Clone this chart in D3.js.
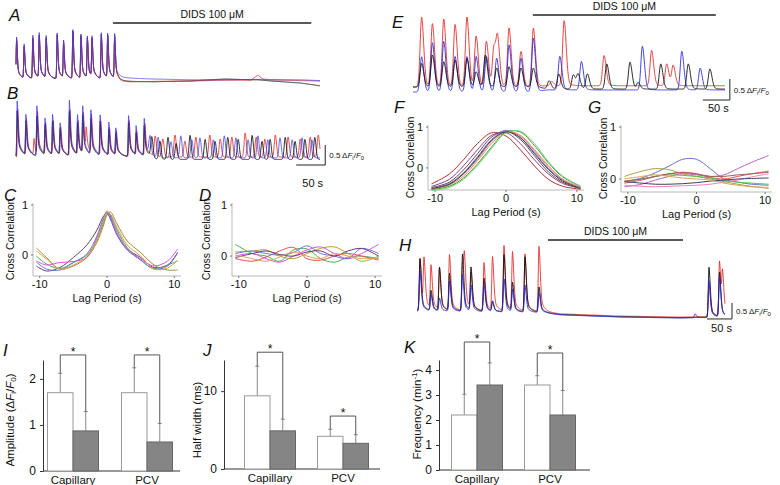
<!DOCTYPE html>
<html>
<head>
<meta charset="utf-8">
<script src="https://cdn.jsdelivr.net/npm/d3@7"></script>
<style>
body { margin: 0; background: #fff; }
svg { display: block; }
text { font-family: "Liberation Sans", Arial, Helvetica, sans-serif; fill: #111; }
</style>
</head>
<body>
<div id="fig"></div>
<script>
// ---------------- data: Ca traces, peaks as [time s, dF/F0] ----------------
var aBlue  = [[1,1.05],[14,0.85],[29,1.08],[40,1.12],[52,1.05],[71,1.14],[82,0.93],[98,1.22],[112,1.1],[123,1.03],[131,1.0],[147,1.14],[158,1.1],[170,1.1]];
var aRed   = [[1,1.0],[14,0.8],[29,1.02],[40,1.05],[52,1.0],[71,1.08],[82,0.9],[98,1.15],[112,1.05],[123,1.0],[131,0.95],[147,1.08],[158,1.05],[170,1.02]];
var aBlack = [[1,0.98],[14,0.78],[29,1.0],[40,1.05],[52,0.98],[71,1.1],[82,0.88],[98,1.18],[112,1.06],[123,0.98],[131,0.95],[147,1.1],[158,1.05],[170,1.05]];
var aBaseT     = [0, 170, 180, 200, 236, 300, 360, 405, 417, 425, 440, 490, 524];
var aBaseBlue  = [0, 0, 0.03, 0.02, 0.0, -0.02, -0.02, -0.01, -0.01, -0.01, -0.02, -0.02, -0.04];
var aBaseRed   = [0, 0, -0.07, -0.07, -0.06, -0.05, -0.03, -0.03, 0.1, 0.0, -0.02, -0.04, -0.05];
var aBaseBlack = [0, 0, -0.05, -0.06, -0.07, -0.05, 0.0, -0.02, -0.02, -0.03, -0.05, -0.1, -0.17];

var bEarlyBlue  = [[2,1.4],[17,1.0],[36,1.25],[50,0.9],[63,1.0],[76,0.78],[92,1.38],[106,0.98],[115,1.15],[129,1.1],[145,1.0],[160,0.82],[172,0.66],[194,1.02],[207,0.72],[221,0.92]];
var bEarlyRed   = [[3,1.2],[18,0.9],[31,0.4],[37,1.05],[51,0.8],[64,0.85],[77,0.7],[93,1.15],[107,0.85],[116,1.0],[121,0.5],[130,0.95],[146,0.85],[161,0.7],[173,0.6],[195,0.9],[208,0.6],[222,0.8]];
var bEarlyBlack = [[2,1.15],[17,0.85],[36,1.0],[50,0.75],[63,0.85],[76,0.65],[92,1.1],[106,0.8],[115,0.95],[129,0.9],[145,0.85],[160,0.65],[172,0.55],[194,0.85],[207,0.55],[221,0.75]];
var bLateBlue  = [[231,0.45],[245,0.5],[267,0.4],[284,0.55],[303,0.45],[317,0.5],[340,0.45],[359,0.55],[379,0.5],[400,0.45],[417,0.55],[434,0.45],[455,0.5],[476,0.45],[493,0.5],[510,0.45]];
var bLateRed   = [[240,0.5],[253,0.45],[274,0.55],[291,0.4],[310,0.5],[334,0.55],[352,0.45],[372,0.5],[395,0.6],[414,0.5],[429,0.45],[447,0.55],[469,0.5],[490,0.45],[507,0.5],[521,0.55]];
var bLateBlack = [[234,0.5],[248,0.45],[262,0.55],[276,0.4],[300,0.6],[326,0.5],[343,0.45],[365,0.55],[383,0.5],[407,0.6],[424,0.45],[438,0.5],[464,0.55],[481,0.45],[498,0.5],[515,0.55]];
var bBaseT     = [0, 220, 240, 524];
var bBaseBlue  = [0, 0, -0.02, -0.02];
var bBaseRed   = [0, 0, 0, 0];
var bBaseBlack = [0, 0, -0.06, -0.06];

var eRed   = [[16,1.66],[36,1.5],[57,1.61],[78,1.48],[100,1.66],[117,1.2],[136,1.08],[150,0.95],[157,1.04],[178,1.4],[200,0.84],[223,1.4],[257,0.1],[280,1.55],[354,0.72],[442,0.84],[470,0.52],[482,0.48]];
var eBlue  = [[16,0.84],[36,1.17],[57,1.2],[78,0.84],[100,0.84],[117,0.84],[136,0.84],[155,0.8],[178,1.12],[200,0.8],[223,1.28],[272,0.8],[312,0.68],[425,1.04],[498,0.92],[532,0.52]];
var eBlack = [[16,0.56],[36,0.76],[57,0.6],[78,0.64],[100,0.68],[117,0.36],[134,0.76],[155,0.45],[178,0.48],[200,0.45],[223,0.45],[252,0.2],[270,0.36],[297,0.34],[306,0.34],[323,0.36],[359,0.6],[402,0.64],[417,0.15],[459,0.6],[510,0.6],[550,0.48]];
var eBaseT     = [0, 230, 250, 578];
var eBaseRed   = [0, 0, 0.03, 0.03];
var eBaseBlue  = [-0.12, -0.12, -0.07, -0.07];
var eBaseBlack = [0, 0, -0.05, -0.05];

var hRed   = [[6,1.62],[14,1.5],[28,1.34],[45,1.31],[65,1.72],[91,1.47],[95,1.3],[108,1.1],[134,1.5],[151,1.66],[174,2.03],[191,1.81],[216,1.78],[244,2.03],[584,1.0],[605,1.72],[611,1.2]];
var hBlack = [[6,1.62],[28,0.62],[45,1.34],[65,1.16],[91,1.78],[108,1.34],[134,1.03],[151,0.31],[174,1.78],[191,0.88],[216,1.72],[244,0.78],[584,1.56],[605,1.38]];
var hBlue  = [[6,1.25],[28,0.5],[45,0.4],[65,0.94],[91,1.16],[108,0.8],[134,0.84],[151,0.3],[174,1.03],[191,0.69],[216,0.84],[244,0.62],[556,0.12],[584,1.16],[605,1.25]];
var hBaseT = [0, 250, 286, 406, 526, 566, 616];
var hBase  = [0, -0.05, -0.12, -0.19, -0.22, -0.21, -0.2];

// ---------------- data: cross correlation ----------------
var cLag = [-10.5, -9, -7, -5, -3, -1.5, -0.5, 0, 0.5, 1.5, 3, 5, 7, 9, 10.5];
var cCurves = [
  {color: "#6b3a7a", v: [-0.22,-0.32,-0.25,-0.05,0.2,0.5,0.78,0.84,0.72,0.4,0.12,-0.05,-0.25,-0.2,0.05]},
  {color: "#a08a3a", v: [0.14,-0.05,-0.28,-0.22,-0.05,0.25,0.6,0.8,0.86,0.62,0.28,0.05,-0.2,-0.3,-0.3]},
  {color: "#4caf50", v: [-0.02,-0.18,-0.27,-0.15,0.0,0.3,0.65,0.82,0.8,0.5,0.15,-0.1,-0.27,-0.2,-0.12]},
  {color: "#e050e0", v: [-0.12,-0.2,-0.15,-0.13,-0.05,0.35,0.72,0.88,0.78,0.45,0.12,-0.08,-0.22,-0.12,0.12]},
  {color: "#6a78d8", v: [-0.14,-0.28,-0.3,-0.15,0.02,0.38,0.75,0.86,0.76,0.4,0.1,-0.1,-0.28,-0.22,0.04]},
  {color: "#d9a040", v: [0.08,-0.08,-0.28,-0.2,-0.03,0.3,0.7,0.85,0.82,0.55,0.2,-0.02,-0.28,-0.26,-0.1]}
];
var dLag = [-10.5, -8, -6, -4, -2, 0, 2, 4, 6, 8, 10.5];
var dCurves = [
  {color: "#4caf50", v: [0.23,0.05,0.0,-0.1,0.12,0.14,-0.05,-0.12,-0.02,0.0,-0.05]},
  {color: "#e05050", v: [-0.05,-0.1,-0.02,0.1,0.17,-0.05,-0.08,0.0,0.05,0.0,-0.08]},
  {color: "#e050e0", v: [0.0,0.05,-0.05,-0.12,0.0,0.12,0.18,0.05,-0.05,0.05,0.23]},
  {color: "#b0a040", v: [0.08,0.1,0.12,0.0,-0.05,0.05,0.15,0.18,0.05,-0.1,0.0]},
  {color: "#6a78d8", v: [0.05,0.1,0.05,0.02,0.07,0.2,0.05,0.0,-0.05,0.15,0.05]},
  {color: "#6b3a7a", v: [-0.03,0.05,0.1,0.03,0.0,0.08,0.1,0.0,0.1,0.15,0.0]},
  {color: "#e0a060", v: [0.02,-0.05,-0.1,-0.02,0.08,0.0,-0.05,0.05,0.0,-0.05,-0.03]}
];
var fLag = [-10.5, -8, -6, -4, -2, 0, 2, 4, 6, 8, 10.5];
var fCurves = [
  {color: "#b03030", v: [-0.39,-0.15,0.2,0.6,0.86,0.78,0.45,0.05,-0.28,-0.45,-0.52]},
  {color: "#8040a0", v: [-0.45,-0.28,0.05,0.45,0.8,0.86,0.6,0.2,-0.15,-0.38,-0.5]},
  {color: "#704848", v: [-0.48,-0.35,-0.05,0.35,0.76,0.9,0.7,0.3,-0.1,-0.35,-0.5]},
  {color: "#6a78d8", v: [-0.5,-0.38,-0.12,0.28,0.7,0.92,0.75,0.38,-0.02,-0.3,-0.48]},
  {color: "#e070c0", v: [-0.5,-0.4,-0.15,0.22,0.65,0.9,0.78,0.42,0.02,-0.28,-0.47]},
  {color: "#e09040", v: [-0.52,-0.42,-0.2,0.18,0.6,0.88,0.8,0.45,0.05,-0.28,-0.5]},
  {color: "#30a030", v: [-0.53,-0.45,-0.25,0.1,0.52,0.88,0.88,0.55,0.12,-0.22,-0.45]},
  {color: "#80d080", v: [-0.55,-0.48,-0.28,0.06,0.48,0.86,0.9,0.6,0.15,-0.2,-0.44]},
  {color: "#404040", v: [-0.5,-0.4,-0.14,0.25,0.68,0.88,0.74,0.35,-0.04,-0.32,-0.5]}
];
var gLag = [-10.5, -8, -6, -4, -2, 0, 2, 4, 6, 8, 10.5];
var gCurves = [
  {color: "#6a70c8", v: [-0.05,0.02,0.12,0.25,0.38,0.38,0.2,0.0,-0.06,-0.1,-0.12]},
  {color: "#c060c0", v: [-0.15,-0.1,-0.02,0.05,0.1,0.08,0.05,0.08,0.2,0.32,0.45]},
  {color: "#b0a040", v: [0.05,0.15,0.2,0.18,0.1,0.05,0.0,-0.05,-0.1,-0.14,-0.18]},
  {color: "#e05050", v: [-0.08,-0.02,0.05,0.1,0.13,0.1,0.03,0.0,0.05,0.1,0.15]},
  {color: "#50c050", v: [-0.05,0.0,0.05,0.08,0.07,0.05,0.02,-0.03,-0.06,-0.08,-0.1]},
  {color: "#f080c0", v: [-0.12,-0.14,-0.15,-0.14,-0.13,-0.12,-0.1,-0.06,-0.02,0.04,0.1]},
  {color: "#404060", v: [-0.05,-0.08,-0.1,-0.1,-0.09,-0.07,-0.04,-0.02,0.0,0.01,0.02]},
  {color: "#a06060", v: [-0.04,0.0,0.05,0.1,0.12,0.1,0.05,0.05,0.08,0.1,0.13]},
  {color: "#e0a060", v: [0.0,0.05,0.08,0.05,0.02,0.0,-0.02,-0.08,-0.12,-0.15,-0.16]}
];

// ---------------- data: summary bars ----------------
var groups = ["Capillary", "PCV"];
var ampCtrl = [1.7, 1.7],  ampCtrlErr = [2.12, 2.24], ampDids = [0.87, 0.63], ampDidsErr = [1.29, 1.03];
var hwCtrl  = [9.4, 4.2],  hwCtrlErr  = [13.2, 5.1],  hwDids  = [4.9, 3.3],   hwDidsErr  = [6.4, 4.4];
var frCtrl  = [2.2, 3.4],  frCtrlErr  = [3.03, 3.77], frDids  = [3.4, 2.2],   frDidsErr  = [4.28, 3.18];
var ampTicks = [0, 1, 2], hwTicks = [0, 10], frTicks = [0, 1, 2, 3, 4];

// ---------------- drawing ----------------
var svg = d3.select("#fig").append("svg").attr("width", 780).attr("height", 485);

function kern(d, k) {
    if (d < 0) return Math.exp(-(d / k.r) * (d / k.r));
    return (1 - k.w) * Math.exp(-(d / k.df) * (d / k.df)) + k.w * Math.exp(-d / k.ts);
}

function sampleTrace(lists, baseT, baseV, tEnd, step) {
    var bs = d3.scaleLinear().domain(baseT).range(baseV).clamp(true);
    var pts = [];
    for (var t = 0; t <= tEnd + 1e-6; t += step) {
        var v = bs(t);
        lists.forEach(function(l) {
            l.peaks.forEach(function(p) {
                var d = t - p[0];
                if (d > -5 * l.k.r && d < 10 * l.k.ts) v += p[1] * kern(d, l.k);
            });
        });
        pts.push([t, v]);
    }
    return pts;
}

function drawTrace(x, y, pts, color, op) {
    svg.append("path")
        .datum(pts)
        .attr("fill", "none")
        .attr("stroke", color)
        .attr("stroke-width", 1)
        .attr("stroke-opacity", op || 0.9)
        .attr("stroke-linejoin", "round")
        .attr("d", d3.line().x(function(d) { return x(d[0]); }).y(function(d) { return y(d[1]); }));
}

function label(txt, px, py) {
    svg.append("text").attr("x", px).attr("y", py)
        .attr("font-size", 17).attr("font-style", "italic").text(txt);
}

function didsBar(x, t0, t1, py) {
    svg.append("line").attr("x1", x(t0)).attr("x2", x(t1)).attr("y1", py).attr("y2", py)
        .attr("stroke", "#222").attr("stroke-width", 1.3);
    svg.append("text").attr("x", (x(t0) + x(t1)) / 2).attr("y", py - 5)
        .attr("text-anchor", "middle").attr("font-size", 10.5).text("DIDS 100 \u03BCM");
}

function scaleBar(x, y, t0, v0, sy) {
    var xa = x(t0), xb = x(t0 + 50), yb = y(v0), yt = y(v0 + 0.5);
    svg.append("path").attr("fill", "none").attr("stroke", "#222").attr("stroke-width", 1)
        .attr("d", "M" + xa + "," + yb + "H" + xb + "V" + yt);
    var t = svg.append("text").attr("x", xb + 4).attr("y", (yb + yt) / 2 + 3).attr("font-size", 8);
    t.append("tspan").text("0.5 \u0394");
    t.append("tspan").attr("font-style", "italic").text("F");
    t.append("tspan").attr("font-size", 6).attr("dy", 2).text("i");
    t.append("tspan").attr("dy", -2).text("/");
    t.append("tspan").attr("font-style", "italic").text("F");
    t.append("tspan").attr("font-size", 6).attr("dy", 2).text("0");
    svg.append("text").attr("x", (xa + xb) / 2 + 2).attr("y", sy).attr("text-anchor", "middle")
        .attr("font-size", 11).text("50 s");
}

// kernels (transient shape per panel)
var kA = {r: 1.0, df: 1.8, w: 0.35, ts: 5};
var kBe = {r: 1.0, df: 2.0, w: 0.4, ts: 7};
var kBl = {r: 2.5, df: 3.0, w: 0.0, ts: 1};
var kE = {r: 4.0, df: 5.5, w: 0.1, ts: 7};
var kH = {r: 2.0, df: 3.5, w: 0.3, ts: 7};

// A and B
var xAB = d3.scaleLinear().domain([0, 524]).range([16, 320]);
var yA = d3.scaleLinear().domain([0, 1]).range([79, 39]);
var yB = d3.scaleLinear().domain([0, 1]).range([157, 117]);
label("A", 9, 21);
label("B", 7, 99);
didsBar(xAB, 167, 509, 23);
drawTrace(xAB, yA, sampleTrace([{peaks: aBlack, k: kA}], aBaseT, aBaseBlack, 524, 0.5), "#111");
drawTrace(xAB, yA, sampleTrace([{peaks: aRed, k: kA}], aBaseT, aBaseRed, 524, 0.5), "#e83030");
drawTrace(xAB, yA, sampleTrace([{peaks: aBlue, k: kA}], aBaseT, aBaseBlue, 524, 0.5), "#3a3ae8", 0.75);
drawTrace(xAB, yB, sampleTrace([{peaks: bEarlyRed, k: kBe}, {peaks: bLateRed, k: kBl}], bBaseT, bBaseRed, 524, 0.5), "#e83030", 0.85);
drawTrace(xAB, yB, sampleTrace([{peaks: bEarlyBlack, k: kBe}, {peaks: bLateBlack, k: kBl}], bBaseT, bBaseBlack, 524, 0.5), "#111", 0.85);
drawTrace(xAB, yB, sampleTrace([{peaks: bEarlyBlue, k: kBe}, {peaks: bLateBlue, k: kBl}], bBaseT, bBaseBlue, 524, 0.5), "#3a3ae8", 0.75);
scaleBar(xAB, yB, 483, -0.2, 187);

// E
var xE = d3.scaleLinear().domain([0, 578]).range([413, 725]);
var yE = d3.scaleLinear().domain([0, 1]).range([87, 45]);
label("E", 392, 28);
didsBar(xE, 222, 561, 15);
drawTrace(xE, yE, sampleTrace([{peaks: eRed, k: kE}], eBaseT, eBaseRed, 578, 0.5), "#e83030");
drawTrace(xE, yE, sampleTrace([{peaks: eBlue, k: kE}], eBaseT, eBaseBlue, 578, 0.5), "#3030e0");
drawTrace(xE, yE, sampleTrace([{peaks: eBlack, k: kE}], eBaseT, eBaseBlack, 578, 0.5), "#111");
scaleBar(xE, yE, 537, -0.31, 112);

// H
var xH = d3.scaleLinear().domain([0, 616]).range([417, 725]);
var yH = d3.scaleLinear().domain([0, 1]).range([310, 278]);
label("H", 399, 251);
didsBar(xH, 262, 532, 240);
drawTrace(xH, yH, sampleTrace([{peaks: hRed, k: kH}], hBaseT, hBase, 616, 0.5), "#e83030");
drawTrace(xH, yH, sampleTrace([{peaks: hBlack, k: kH}], hBaseT, hBase.map(function(v) { return v - 0.02; }), 616, 0.5), "#111");
drawTrace(xH, yH, sampleTrace([{peaks: hBlue, k: kH}], hBaseT, hBase.map(function(v) { return v - 0.03; }), 616, 0.5), "#2828d0");
scaleBar(xH, yH, 580, -0.28, 332);

// cross correlation panels
function ccPanel(cfg) {
    var x = d3.scaleLinear().domain([-11, 11]).range(cfg.xr);
    var y = d3.scaleLinear().domain(cfg.yd).range(cfg.yr);
    var g = svg.append("g");
    var ax = "#b8b8b8";
    g.append("line").attr("x1", cfg.xr[0]).attr("x2", cfg.xr[0]).attr("y1", cfg.yr[0]).attr("y2", cfg.yr[1]).attr("stroke", ax);
    g.append("line").attr("x1", cfg.xr[0]).attr("x2", cfg.xr[1]).attr("y1", cfg.yr[0]).attr("y2", cfg.yr[0]).attr("stroke", ax);
    [1, 0].forEach(function(v) {
        g.append("line").attr("x1", cfg.xr[0] - 2).attr("x2", cfg.xr[0]).attr("y1", y(v)).attr("y2", y(v)).attr("stroke", "#777");
        g.append("text").attr("x", cfg.xr[0] - 5).attr("y", y(v) + 4).attr("text-anchor", "end").attr("font-size", 11).text(v);
    });
    [-10, 0, 10].forEach(function(v) {
        g.append("line").attr("x1", x(v)).attr("x2", x(v)).attr("y1", cfg.yr[0]).attr("y2", cfg.yr[0] + 2).attr("stroke", "#777");
        g.append("text").attr("x", x(v)).attr("y", cfg.yr[0] + 12).attr("text-anchor", "middle").attr("font-size", 11).text(v);
    });
    g.append("text").attr("x", (x(-11) + x(11)) / 2).attr("y", cfg.yr[0] + 26).attr("text-anchor", "middle")
        .attr("font-size", 11).text("Lag Period (s)");
    g.append("text").attr("transform", "translate(" + cfg.ylx + "," + ((cfg.yr[0] + cfg.yr[1]) / 2) + ") rotate(-90)")
        .attr("text-anchor", "middle").attr("font-size", 10.5).text("Cross Correlation");
    var line = d3.line().curve(d3.curveCatmullRom.alpha(0.5))
        .x(function(d) { return x(d[0]); }).y(function(d) { return y(d[1]); });
    cfg.curves.forEach(function(c) {
        g.append("path").datum(cfg.lag.map(function(l, i) { return [l, c.v[i]]; }))
            .attr("fill", "none").attr("stroke", c.color).attr("stroke-width", 1).attr("d", line);
    });
}
label("C", 4, 201);
label("D", 199, 201);
label("F", 394, 113);
label("G", 588, 113);
ccPanel({xr: [33, 181], yd: [-0.42, 1.04], yr: [276, 203], ylx: 14, lag: cLag, curves: cCurves});
ccPanel({xr: [232, 382], yd: [-0.39, 1.04], yr: [276, 203], ylx: 210, lag: dLag, curves: dCurves});
ccPanel({xr: [428, 584], yd: [-0.54, 1.05], yr: [190, 125], ylx: 414, lag: fLag, curves: fCurves});
ccPanel({xr: [621, 772], yd: [-0.25, 1.04], yr: [192, 125], ylx: 607, lag: gLag, curves: gCurves});

// bar panels
function barPanel(cfg) {
    var g = svg.append("g");
    var y = d3.scaleLinear().domain([0, cfg.top]).range([cfg.y0, 360]);
    var x = d3.scalePoint().domain(groups).range(cfg.centers);
    var bw = 25.5;
    g.append("g").attr("transform", "translate(" + cfg.x0 + ",0)")
        .call(d3.axisLeft(y).tickValues(cfg.ticks).tickFormat(d3.format("d")).tickSize(3).tickSizeOuter(0).tickPadding(4))
        .call(function(s) {
            s.selectAll("text").attr("font-size", 12).style("font-family", "\"Liberation Sans\", Arial, sans-serif").attr("fill", "#111");
            s.selectAll("line, path").attr("stroke", "#333");
        });
    g.append("line").attr("x1", cfg.x0).attr("x2", cfg.x1).attr("y1", y(0)).attr("y2", y(0)).attr("stroke", "#333");
    groups.forEach(function(gr, i) {
        var cx = x(gr);
        var bars = [
            {x: cx - bw, v: cfg.ctrl[i], e: cfg.ctrlErr[i], fill: "#fff", stroke: "#9a9a9a"},
            {x: cx, v: cfg.dids[i], e: cfg.didsErr[i], fill: "#858585", stroke: "#666"}
        ];
        bars.forEach(function(b) {
            var mx = b.x + bw / 2;
            g.append("line").attr("x1", mx).attr("x2", mx).attr("y1", y(b.v)).attr("y2", y(b.e)).attr("stroke", "#888");
            g.append("line").attr("x1", mx - 2).attr("x2", mx + 2).attr("y1", y(b.e)).attr("y2", y(b.e)).attr("stroke", "#888");
            g.append("rect").attr("x", b.x).attr("y", y(b.v)).attr("width", bw).attr("height", y(0) - y(b.v))
                .attr("fill", b.fill).attr("stroke", b.stroke).attr("stroke-width", 1);
        });
        var lx = cx - bw / 2, rx = cx + bw / 2, top = y(cfg.bracket[i]);
        g.append("path").attr("fill", "none").attr("stroke", "#555")
            .attr("d", "M" + lx + "," + y(cfg.ctrlErr[i]) + "V" + top + "H" + rx + "V" + y(cfg.didsErr[i]));
        g.append("text").attr("x", cx).attr("y", top + 1).attr("text-anchor", "middle").attr("font-size", 12).text("*");
        g.append("text").attr("x", cx).attr("y", cfg.y0 + 13).attr("text-anchor", "middle").attr("font-size", 11.5).text(gr);
    });
    return g;
}

label("I", 3, 356);
label("J", 203, 356);
label("K", 404, 353);
barPanel({x0: 43, x1: 180, y0: 471, top: 2.41, ticks: ampTicks, centers: [73, 147],
    ctrl: ampCtrl, ctrlErr: ampCtrlErr, dids: ampDids, didsErr: ampDidsErr, bracket: [2.52, 2.52]});
barPanel({x0: 224, x1: 380, y0: 469, top: 14, ticks: hwTicks, centers: [270, 343],
    ctrl: hwCtrl, ctrlErr: hwCtrlErr, dids: hwDids, didsErr: hwDidsErr, bracket: [15, 6.8]});
barPanel({x0: 439, x1: 590, y0: 470, top: 4.4, ticks: frTicks, centers: [477, 550],
    ctrl: frCtrl, ctrlErr: frCtrlErr, dids: frDids, didsErr: frDidsErr, bracket: [5.12, 4.68]});

// y labels of bar panels
var t1 = svg.append("text").attr("transform", "translate(14,420) rotate(-90)").attr("text-anchor", "middle").attr("font-size", 11.5);
t1.append("tspan").text("Amplitude (\u0394");
t1.append("tspan").attr("font-style", "italic").text("F");
t1.append("tspan").attr("font-size", 8).attr("dy", 2).text("i");
t1.append("tspan").attr("dy", -2).text("/");
t1.append("tspan").attr("font-style", "italic").text("F");
t1.append("tspan").attr("font-size", 8).attr("dy", 2).text("0");
t1.append("tspan").attr("dy", -2).text(")");
svg.append("text").attr("transform", "translate(201,420) rotate(-90)").attr("text-anchor", "middle")
    .attr("font-size", 11.5).text("Half width (ms)");
var t3 = svg.append("text").attr("transform", "translate(421,414) rotate(-90)").attr("text-anchor", "middle").attr("font-size", 11.5);
t3.append("tspan").text("Frequency (min");
t3.append("tspan").attr("font-size", 8).attr("dy", -4).text("-1");
t3.append("tspan").attr("dy", 4).text(")");
</script>
</body>
</html>
